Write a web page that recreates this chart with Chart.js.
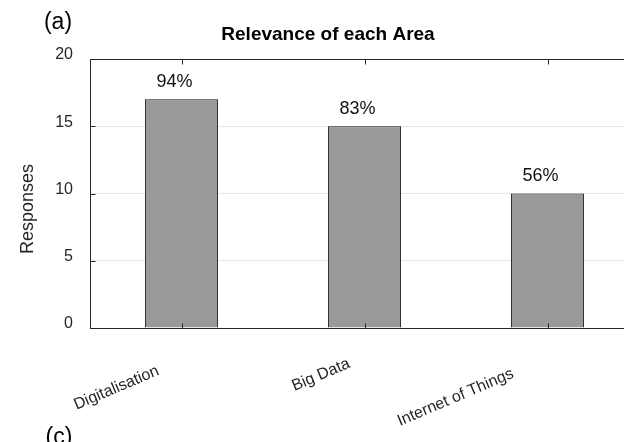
<!DOCTYPE html>
<html>
<head>
<meta charset="utf-8">
<script src="https://cdn.jsdelivr.net/npm/chart.js@4"></script>
<style>
  html, body { margin: 0; padding: 0; background: #fff; overflow: hidden; }
  #wrap { width: 700px; height: 442px; }
</style>
</head>
<body>
<div id="wrap"><canvas id="chart" width="700" height="442"></canvas></div>
<script>
// data
const areas = ['Digitalisation', 'Big Data', 'Internet of Things'];
const responses = [17, 15, 10];
const shares = ['94%', '83%', '56%'];
const yTicks = [0, 5, 10, 15, 20];

// layout helpers (not data)
const FONT = "'Liberation Sans', Arial, Helvetica, sans-serif";
const axisColor = '#262626';
const labelCenters = [[-65, 388], [-43.5, 375], [-92, 397.5]];  // dx from tick, y

const decorations = {
    id: 'decorations',
    afterDraw(chart) {
        const ctx = chart.ctx;
        const area = chart.chartArea;
        const xScale = chart.scales.x;
        const yScale = chart.scales.y;
        const l = Math.round(area.left) + 0.5, t = Math.round(area.top) + 0.5;
        const r = Math.round(area.right) + 0.5, b = Math.round(area.bottom) + 0.5;

        ctx.save();
        // axes box
        ctx.strokeStyle = axisColor;
        ctx.lineWidth = 1;
        ctx.strokeRect(l, t, r - l, b - t);

        // inner tick marks
        ctx.beginPath();
        areas.forEach((a, i) => {
            const x = Math.round(xScale.getPixelForValue(i)) + 0.5;
            ctx.moveTo(x, t); ctx.lineTo(x, t + 5);
            ctx.moveTo(x, b); ctx.lineTo(x, b - 5);
        });
        yTicks.forEach(v => {
            const y = Math.round(yScale.getPixelForValue(v)) + 0.5;
            ctx.moveTo(l, y); ctx.lineTo(l + 5, y);
        });
        ctx.stroke();

        // y tick labels (sit a little above their tick, as in the source)
        ctx.fillStyle = axisColor;
        ctx.font = '16px ' + FONT;
        ctx.textAlign = 'right';
        ctx.textBaseline = 'middle';
        yTicks.forEach(v => {
            ctx.fillText(String(v), 73, yScale.getPixelForValue(v) - 4);
        });

        // value labels above bars
        const meta = chart.getDatasetMeta(0);
        ctx.fillStyle = '#111';
        ctx.font = '18px ' + FONT;
        ctx.textAlign = 'center';
        ctx.textBaseline = 'alphabetic';
        meta.data.forEach((bar, i) => {
            ctx.fillText(shares[i], bar.x - 7, bar.y - 12.5);
        });

        // rotated category labels
        ctx.font = '16px ' + FONT;
        ctx.fillStyle = axisColor;
        ctx.textBaseline = 'middle';
        areas.forEach((a, i) => {
            const x = xScale.getPixelForValue(i) + labelCenters[i][0];
            ctx.save();
            ctx.translate(x, labelCenters[i][1]);
            ctx.rotate(-23 * Math.PI / 180);
            ctx.fillText(a, 0, 0);
            ctx.restore();
        });

        // y axis title
        ctx.save();
        ctx.font = '18px ' + FONT;
        ctx.translate(28, 209);
        ctx.rotate(-Math.PI / 2);
        ctx.fillText('Responses', 0, 0);
        ctx.restore();

        // chart title
        ctx.fillStyle = '#000';
        ctx.font = 'bold 19px ' + FONT;
        ctx.textBaseline = 'alphabetic';
        ctx.fillText('Relevance of each Area', 328, 40);

        // panel letters
        ctx.font = '23px ' + FONT;
        ctx.fillText('(a)', 58, 29);
        ctx.fillText('(c)', 59, 444);
        ctx.restore();
    }
};

const ctx = document.getElementById('chart').getContext('2d');
new Chart(ctx, {
    type: 'bar',
    data: {
        labels: areas,
        datasets: [{
            label: 'Responses',
            data: responses,
            backgroundColor: '#999999',
            borderColor: '#111111',
            borderWidth: 1,
            categoryPercentage: 1,
            barPercentage: 0.4
        }]
    },
    options: {
        responsive: false,
        animation: false,
        devicePixelRatio: 1,
        layout: { padding: { top: 59, right: 61, bottom: 114, left: 0 } },
        plugins: {
            legend: { display: false },
            tooltip: { enabled: false }
        },
        scales: {
            x: {
                offset: true,
                grid: { display: false, drawTicks: false },
                border: { display: true, color: axisColor, width: 1 },
                ticks: { display: false },
                afterFit: (scale) => { scale.height = 0; }
            },
            y: {
                min: 0,
                max: 20,
                afterBuildTicks: (scale) => { scale.ticks = yTicks.map(v => ({ value: v })); },
                grid: { color: '#e6e6e6', drawTicks: false },
                border: { display: true, color: axisColor, width: 1 },
                ticks: { display: false },
                afterFit: (scale) => { scale.width = 90; }
            }
        }
    },
    plugins: [decorations]
});
</script>
</body>
</html>
